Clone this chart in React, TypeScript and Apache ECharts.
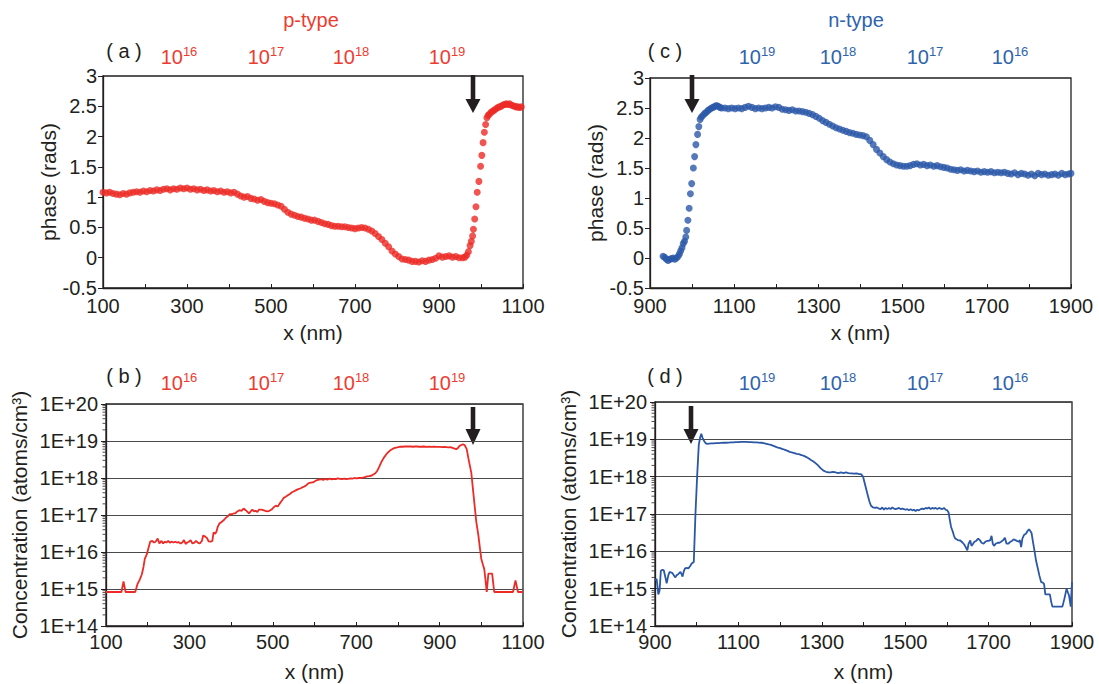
import React, { useEffect, useRef } from "react";
import * as echarts from "echarts";

const RED = "#ec2a26";
const RED_TEXT = "#ee3b30";
const BLUE = "#2b57a7";
const BLUE_TEXT = "#2e63ae";
const INK = "#231f20";
const FONT = "'Liberation Sans', Arial, Helvetica, sans-serif";

// ---------- data ----------
// (a) p-type phase [x nm, phase rad]
const pPhase: [number, number][] = [
  [100, 1.08], [108, 1.07], [116, 1.08], [124, 1.06], [132, 1.05], [140, 1.04], [148, 1.06], [156, 1.05],
  [164, 1.07], [172, 1.08], [180, 1.09], [188, 1.08], [196, 1.1], [204, 1.09], [212, 1.11], [220, 1.1],
  [228, 1.12], [236, 1.11], [244, 1.13], [252, 1.14], [260, 1.12], [268, 1.14], [276, 1.13], [284, 1.15],
  [292, 1.14], [300, 1.15], [308, 1.13], [316, 1.14], [324, 1.12], [332, 1.13], [340, 1.11], [348, 1.12],
  [356, 1.1], [364, 1.11], [372, 1.09], [380, 1.1], [388, 1.08], [396, 1.09], [404, 1.07], [412, 1.08],
  [420, 1.05], [428, 1.02], [436, 1.0], [444, 1.01], [452, 0.98], [460, 0.97], [468, 0.95], [476, 0.96],
  [484, 0.93], [492, 0.91], [500, 0.9], [508, 0.89], [516, 0.87], [524, 0.85], [532, 0.8], [540, 0.75],
  [548, 0.72], [556, 0.7], [564, 0.68], [572, 0.67], [580, 0.65], [588, 0.64], [596, 0.62], [604, 0.62],
  [612, 0.6], [620, 0.58], [628, 0.56], [636, 0.55], [644, 0.53], [652, 0.52], [660, 0.52], [668, 0.51],
  [676, 0.51], [684, 0.5], [692, 0.49], [700, 0.48], [708, 0.49], [716, 0.5], [724, 0.49], [732, 0.47],
  [740, 0.44], [748, 0.4], [756, 0.35], [764, 0.3], [772, 0.24], [780, 0.18], [788, 0.11], [796, 0.06],
  [804, 0.02], [812, -0.02], [820, -0.03], [828, -0.04], [836, -0.06], [844, -0.06], [852, -0.07], [860, -0.05],
  [868, -0.06], [876, -0.04], [884, -0.03], [892, -0.01], [900, 0.03], [908, 0.01], [916, 0.02], [924, 0.03],
  [932, 0.01], [940, 0.02], [948, 0.0], [956, 0.0], [962, 0.01], [966, 0.04], [970, 0.1], [974, 0.2],
  [977, 0.27], [980, 0.36], [982, 0.47], [985, 0.64], [988, 0.84], [991, 1.08], [995, 1.26], [999, 1.51],
  [1002, 1.69], [1005, 1.9], [1008, 2.07], [1011, 2.2], [1014, 2.31], [1017, 2.35], [1020, 2.37], [1024, 2.4],
  [1028, 2.42], [1032, 2.44], [1036, 2.46], [1040, 2.48], [1044, 2.49], [1048, 2.5], [1052, 2.52], [1056, 2.53],
  [1060, 2.54], [1064, 2.53], [1068, 2.54], [1072, 2.52], [1076, 2.51], [1080, 2.5], [1084, 2.49], [1088, 2.49],
  [1092, 2.48], [1096, 2.49],
];

// (c) n-type phase [x nm, phase rad]
const nPhase: [number, number][] = [
  [931, 0.03], [935, 0.01], [939, -0.02], [943, -0.04], [947, -0.02], [951, -0.01], [955, 0.0], [959, -0.02],
  [963, 0.0], [967, 0.03], [970, 0.07], [973, 0.12], [976, 0.17], [979, 0.24], [982, 0.28], [985, 0.35],
  [987, 0.46], [990, 0.63], [993, 0.83], [996, 1.07], [999, 1.24], [1003, 1.5], [1006, 1.69], [1009, 1.89],
  [1013, 2.06], [1016, 2.19], [1019, 2.31], [1022, 2.35], [1026, 2.38], [1030, 2.41], [1034, 2.43], [1038, 2.46],
  [1042, 2.48], [1046, 2.5], [1050, 2.51], [1054, 2.53], [1058, 2.54], [1062, 2.53], [1066, 2.51], [1070, 2.5],
  [1078, 2.5], [1086, 2.49], [1094, 2.5], [1102, 2.49], [1110, 2.5], [1118, 2.49], [1126, 2.51], [1134, 2.53],
  [1142, 2.51], [1150, 2.49], [1158, 2.5], [1166, 2.49], [1174, 2.5], [1182, 2.51], [1190, 2.5], [1198, 2.52],
  [1206, 2.51], [1214, 2.48], [1222, 2.47], [1230, 2.46], [1238, 2.47], [1246, 2.45], [1254, 2.45], [1262, 2.44],
  [1270, 2.43], [1278, 2.41], [1286, 2.39], [1294, 2.36], [1302, 2.33], [1310, 2.29], [1318, 2.26], [1326, 2.23],
  [1334, 2.2], [1342, 2.17], [1350, 2.15], [1358, 2.13], [1366, 2.11], [1374, 2.09], [1382, 2.08], [1390, 2.06],
  [1398, 2.05], [1406, 2.04], [1414, 2.02], [1422, 1.96], [1430, 1.89], [1438, 1.81], [1446, 1.75], [1454, 1.69],
  [1462, 1.64], [1470, 1.6], [1478, 1.57], [1486, 1.55], [1494, 1.54], [1502, 1.53], [1510, 1.53], [1518, 1.54],
  [1526, 1.56], [1534, 1.57], [1542, 1.55], [1550, 1.56], [1558, 1.54], [1566, 1.55], [1574, 1.53], [1582, 1.54],
  [1590, 1.52], [1598, 1.51], [1606, 1.5], [1614, 1.48], [1622, 1.47], [1630, 1.46], [1638, 1.47], [1646, 1.45],
  [1654, 1.46], [1662, 1.45], [1670, 1.44], [1678, 1.45], [1686, 1.43], [1694, 1.44], [1702, 1.43], [1710, 1.44],
  [1718, 1.42], [1726, 1.43], [1734, 1.42], [1742, 1.43], [1750, 1.41], [1758, 1.4], [1766, 1.42], [1774, 1.39],
  [1782, 1.41], [1790, 1.4], [1798, 1.38], [1806, 1.4], [1814, 1.37], [1822, 1.41], [1830, 1.39], [1838, 1.4],
  [1846, 1.38], [1854, 1.39], [1862, 1.4], [1870, 1.38], [1878, 1.41], [1886, 1.39], [1894, 1.4], [1900, 1.41],
];

// (b) p-type concentration [x nm, atoms/cm3]
const pConc: [number, number][] = [
  [100, 8.3e14], [110, 8.3e14], [120, 8.3e14], [130, 8.3e14], [137, 8.3e14], [142, 1.6e15], [147, 8.3e14],
  [155, 8.3e14], [165, 8.3e14], [170, 8.3e14], [176, 1.4e15], [181, 1.8e15], [186, 2.5e15], [190, 4.0e15],
  [193, 6.5e15], [198, 8.7e15], [202, 1.3e16], [206, 1.9e16], [211, 2.0e16], [215, 1.8e16], [219, 1.9e16],
  [224, 2.3e16], [228, 1.7e16], [233, 2.0e16], [237, 1.7e16], [241, 1.9e16], [245, 1.8e16], [249, 2.0e16],
  [253, 1.8e16], [258, 1.9e16], [262, 1.8e16], [266, 1.9e16], [270, 1.8e16], [274, 1.85e16], [279, 1.7e16],
  [283, 1.8e16], [287, 2.1e16], [291, 1.65e16], [295, 1.8e16], [299, 1.9e16], [303, 2.1e16], [307, 1.7e16],
  [312, 1.8e16], [316, 2.0e16], [320, 1.8e16], [325, 1.7e16], [330, 2.0e16], [333, 2.8e16], [338, 2.6e16],
  [342, 2.4e16], [346, 1.95e16], [351, 1.9e16], [355, 2.0e16], [358, 3.4e16], [362, 3.1e16], [365, 3.6e16],
  [368, 4.8e16], [372, 5.9e16], [377, 6.5e16], [382, 7.2e16], [387, 8.3e16], [392, 9.2e16], [397, 1.05e17],
  [402, 1.05e17], [406, 1.1e17], [410, 1.1e17], [415, 1.25e17], [420, 1.35e17], [425, 1.3e17], [430, 1.5e17],
  [435, 1.35e17], [440, 1.2e17], [443, 1.1e17], [447, 1.25e17], [451, 1.4e17], [455, 1.25e17], [459, 1.3e17],
  [463, 1.2e17], [467, 1.4e17], [472, 1.4e17], [477, 1.35e17], [482, 1.3e17], [487, 1.25e17], [492, 1.3e17],
  [497, 1.4e17], [502, 1.6e17], [507, 1.8e17], [512, 1.7e17], [516, 2.0e17], [521, 2.4e17], [526, 2.9e17],
  [531, 3.1e17], [536, 3.4e17], [541, 3.7e17], [546, 4.1e17], [551, 4.4e17], [556, 4.7e17], [561, 5.0e17],
  [566, 5.2e17], [571, 5.6e17], [576, 5.9e17], [581, 6.5e17], [586, 7.3e17], [591, 7.5e17], [596, 7.6e17],
  [601, 8.2e17], [606, 8.8e17], [611, 9.0e17], [616, 9.3e17], [621, 8.9e17], [626, 9.4e17], [631, 9.0e17],
  [636, 9.6e17], [641, 9.2e17], [646, 9.5e17], [651, 9.3e17], [656, 9.8e17], [661, 9.5e17], [666, 9.3e17],
  [671, 9.6e17], [676, 9.4e17], [681, 9.5e17], [686, 9.8e17], [691, 9.6e17], [696, 1.0e18], [701, 9.7e17],
  [706, 1.0e18], [711, 1.0e18], [716, 1.02e18], [721, 1.05e18], [726, 1.1e18], [731, 1.12e18], [736, 1.15e18],
  [741, 1.25e18], [746, 1.35e18], [751, 1.6e18], [756, 2.1e18], [761, 2.8e18], [766, 3.5e18], [771, 4.2e18],
  [776, 4.9e18], [781, 5.5e18], [786, 6.0e18], [791, 6.4e18], [796, 6.6e18], [801, 6.8e18], [806, 7.0e18],
  [811, 7.0e18], [816, 7.1e18], [821, 7.1e18], [826, 7.2e18], [831, 7.1e18], [836, 7.0e18], [841, 7.1e18],
  [846, 7.1e18], [851, 7.0e18], [856, 7.0e18], [861, 7.1e18], [866, 7.0e18], [871, 6.9e18], [876, 7.0e18],
  [881, 6.9e18], [886, 7.0e18], [891, 6.9e18], [896, 6.9e18], [901, 6.9e18], [906, 6.8e18], [911, 6.9e18],
  [916, 6.8e18], [921, 6.7e18], [926, 6.8e18], [931, 6.5e18], [936, 6.2e18], [940, 6.0e18], [944, 6.5e18],
  [948, 7.4e18], [952, 7.8e18], [956, 8.1e18], [960, 7.8e18], [965, 6.0e18], [970, 3.0e18], [976, 1.4e18],
  [980, 5.0e17], [984, 1.8e17], [988, 6.5e16], [993, 2.8e16], [997, 1.2e16], [1000, 6.5e15], [1004, 4.5e15],
  [1007, 3.5e15], [1010, 1.8e15], [1013, 8.3e14], [1017, 2.6e15], [1021, 2.6e15], [1026, 2.6e15], [1031, 8.3e14],
  [1040, 8.3e14], [1050, 8.3e14], [1060, 8.3e14], [1070, 8.3e14], [1076, 8.3e14], [1082, 1.7e15], [1088, 8.3e14],
  [1094, 8.3e14], [1100, 8.3e14],
];

// (d) n-type concentration [x nm, atoms/cm3]
const nConc: [number, number][] = [
  [900, 1.7e15], [904, 1.8e15], [908, 7.0e14], [911, 9.0e14], [914, 3.0e15], [918, 3.2e15], [921, 3.1e15],
  [925, 2.0e15], [928, 1.4e15], [932, 2.3e15], [935, 2.8e15], [939, 2.7e15], [942, 2.6e15], [946, 2.2e15],
  [949, 2.0e15], [952, 2.3e15], [955, 2.4e15], [958, 2.6e15], [961, 2.8e15], [964, 2.4e15], [966, 2.1e15],
  [969, 2.9e15], [972, 3.5e15], [976, 3.6e15], [980, 3.5e15], [984, 4.0e15], [988, 4.7e15], [993, 5.2e15],
  [997, 1.0e17], [1001, 1.0e18], [1005, 7.1e18], [1008, 1.1e19], [1011, 1.4e19], [1014, 1.1e19], [1018, 8.9e18],
  [1022, 7.8e18], [1025, 7.6e18], [1030, 7.7e18], [1035, 7.8e18], [1040, 7.8e18], [1046, 7.9e18], [1052, 7.9e18],
  [1058, 8.0e18], [1064, 8.1e18], [1070, 8.1e18], [1076, 8.2e18], [1082, 8.3e18], [1088, 8.3e18], [1094, 8.4e18],
  [1100, 8.4e18], [1106, 8.5e18], [1112, 8.5e18], [1119, 8.5e18], [1125, 8.4e18], [1131, 8.4e18], [1137, 8.3e18],
  [1143, 8.3e18], [1149, 8.2e18], [1155, 8.1e18], [1161, 7.9e18], [1167, 7.6e18], [1173, 7.3e18], [1178, 7.1e18],
  [1184, 6.7e18], [1190, 6.3e18], [1195, 6.0e18], [1200, 5.8e18], [1206, 5.5e18], [1212, 5.2e18], [1218, 4.9e18],
  [1223, 4.6e18], [1228, 4.5e18], [1234, 4.3e18], [1240, 4.1e18], [1245, 4.0e18], [1251, 3.8e18], [1257, 3.6e18],
  [1262, 3.4e18], [1268, 3.1e18], [1274, 2.8e18], [1279, 2.6e18], [1285, 2.3e18], [1291, 2.0e18], [1297, 1.7e18],
  [1304, 1.45e18], [1310, 1.35e18], [1316, 1.3e18], [1321, 1.3e18], [1327, 1.35e18], [1333, 1.3e18], [1339, 1.25e18],
  [1346, 1.3e18], [1352, 1.25e18], [1358, 1.3e18], [1364, 1.25e18], [1371, 1.23e18], [1377, 1.2e18], [1383, 1.22e18],
  [1388, 1.18e18], [1394, 1.17e18], [1399, 1.0e18], [1404, 6.0e17], [1409, 3.6e17], [1414, 2.2e17], [1418, 1.66e17],
  [1423, 1.5e17], [1428, 1.45e17], [1432, 1.5e17], [1437, 1.4e17], [1441, 1.35e17], [1445, 1.5e17], [1449, 1.3e17],
  [1453, 1.45e17], [1457, 1.35e17], [1461, 1.45e17], [1465, 1.35e17], [1469, 1.5e17], [1473, 1.4e17], [1477, 1.35e17],
  [1481, 1.4e17], [1485, 1.45e17], [1489, 1.35e17], [1493, 1.4e17], [1497, 1.35e17], [1501, 1.3e17], [1505, 1.35e17],
  [1509, 1.25e17], [1513, 1.35e17], [1517, 1.25e17], [1521, 1.3e17], [1525, 1.2e17], [1529, 1.3e17], [1533, 1.25e17],
  [1537, 1.35e17], [1541, 1.4e17], [1545, 1.35e17], [1549, 1.45e17], [1553, 1.4e17], [1557, 1.5e17], [1561, 1.35e17],
  [1565, 1.45e17], [1569, 1.4e17], [1573, 1.45e17], [1577, 1.35e17], [1581, 1.45e17], [1585, 1.4e17], [1589, 1.35e17],
  [1593, 1.45e17], [1597, 1.3e17], [1601, 1.25e17], [1604, 1.1e17], [1607, 7.0e16], [1610, 4.5e16], [1614, 3.4e16],
  [1617, 2.6e16], [1620, 2.2e16], [1626, 2.0e16], [1632, 1.95e16], [1638, 1.7e16], [1642, 1.5e16], [1645, 1.3e16],
  [1649, 1.07e16], [1652, 1.6e16], [1656, 1.95e16], [1659, 1.4e16], [1662, 1.55e16], [1666, 1.8e16], [1670, 1.9e16],
  [1675, 2.2e16], [1679, 2.0e16], [1683, 1.7e16], [1688, 1.6e16], [1692, 1.8e16], [1696, 1.9e16], [1700, 1.9e16],
  [1704, 2.0e16], [1707, 2.6e16], [1710, 1.6e16], [1713, 1.4e16], [1717, 1.6e16], [1722, 1.7e16], [1726, 1.7e16],
  [1730, 1.8e16], [1735, 2.0e16], [1739, 2.3e16], [1743, 1.6e16], [1747, 1.6e16], [1752, 1.8e16], [1756, 1.9e16],
  [1760, 2.1e16], [1764, 2.0e16], [1768, 1.9e16], [1772, 1.8e16], [1775, 2.0e16], [1778, 1.3e16], [1781, 2.2e16],
  [1785, 2.75e16], [1790, 3.0e16], [1794, 3.6e16], [1797, 3.9e16], [1800, 3.5e16], [1803, 3.1e16], [1806, 1.9e16],
  [1810, 1.05e16], [1814, 5.5e15], [1818, 3.5e15], [1822, 2.2e15], [1826, 1.5e15], [1830, 1.45e15], [1833, 1.35e15],
  [1836, 7.0e14], [1843, 7.0e14], [1847, 7.0e14], [1850, 4.5e14], [1853, 3.3e14], [1860, 3.3e14], [1868, 3.3e14],
  [1877, 3.3e14], [1882, 5.5e14], [1887, 1.0e15], [1890, 8.0e14], [1893, 6.5e14], [1897, 3.3e14], [1900, 1.5e15],
];

// header labels (powers of ten above each panel)
const pExponents = ["16", "17", "18", "19"];
const nExponents = ["19", "18", "17", "16"];
// log-axis minor tick decades and multipliers
const minorDecades = [14, 15, 16, 17, 18, 19];
const minorMultipliers = [2, 3, 4, 5, 6, 7, 8, 9];

// ---------- layout (pixels) ----------
const grids = [
  { left: 103, top: 76, width: 420, height: 212 }, // a
  { left: 106, top: 404, width: 417, height: 222 }, // b
  { left: 650, top: 78, width: 421, height: 210 }, // c
  { left: 655, top: 402, width: 417, height: 224 }, // d
];
const pHeaderX = [179, 266, 351, 447];
const nHeaderX = [757, 838, 925, 1010];

function xAxis(gridIndex: number, min: number, max: number, nameGap: number, labelMargin: number) {
  return {
    type: "value",
    gridIndex,
    min,
    max,
    interval: 100,
    name: "x (nm)",
    nameLocation: "middle",
    nameGap,
    nameTextStyle: { fontSize: 21, color: INK, fontFamily: FONT },
    axisLine: { show: true, onZero: false, lineStyle: { color: INK, width: 1.3 } },
    axisTick: { show: true, inside: true, length: 4, lineStyle: { color: INK, width: 1 } },
    axisLabel: {
      margin: labelMargin,
      fontSize: 20,
      color: INK,
      fontFamily: FONT,
      formatter: (v: number) => ((v - min) % 200 === 0 ? String(v) : ""),
    },
    splitLine: { show: false },
  };
}

function phaseAxis(gridIndex: number, nameGap: number) {
  return {
    type: "value",
    gridIndex,
    min: -0.5,
    max: 3,
    interval: 0.5,
    name: "phase (rads)",
    nameLocation: "middle",
    nameGap,
    nameTextStyle: { fontSize: 21, color: INK, fontFamily: FONT },
    axisLine: { show: true, onZero: false, lineStyle: { color: INK, width: 1.3 } },
    axisTick: { show: true, inside: false, length: 5, lineStyle: { color: INK, width: 1 } },
    axisLabel: { margin: 6, fontSize: 20, color: INK, fontFamily: FONT },
    splitLine: { show: false },
  };
}

function concAxis(gridIndex: number, nameGap: number) {
  return {
    type: "log",
    logBase: 10,
    gridIndex,
    min: 1e14,
    max: 1e20,
    interval: 1,
    splitNumber: 6,
    name: "Concentration (atoms/cm³)",
    nameLocation: "middle",
    nameGap,
    nameTextStyle: { fontSize: 21, color: INK, fontFamily: FONT },
    axisLine: { show: true, onZero: false, lineStyle: { color: INK, width: 1.3 } },
    axisTick: { show: true, inside: false, length: 5, lineStyle: { color: INK, width: 1 } },
    axisLabel: {
      margin: 8,
      fontSize: 20,
      color: INK,
      fontFamily: FONT,
      formatter: (v: number) => "1E+" + Math.round(Math.log10(v)),
    },
    splitLine: { show: true, lineStyle: { color: "#4a4a4a", width: 1 } },
  };
}

function minorTickSeries(xAxisIndex: number, xMin: number) {
  const data: [number, number][] = [];
  minorDecades.forEach((d) => minorMultipliers.forEach((m) => data.push([xMin, m * Math.pow(10, d)])));
  return {
    type: "scatter",
    xAxisIndex,
    yAxisIndex: xAxisIndex,
    data,
    symbol: "rect",
    symbolSize: [3, 1],
    symbolOffset: [-2, 0],
    itemStyle: { color: INK },
    silent: true,
    clip: false,
    z: 1,
  };
}

function headerTexts(xs: number[], exps: string[], y: number, color: string) {
  return xs.map((x, i) => ({
    type: "text",
    x,
    y,
    style: {
      text: `{b|10}{s|${exps[i]}}`,
      align: "center",
      verticalAlign: "middle",
      fill: color,
      rich: {
        b: { fontSize: 20, fontFamily: FONT, fill: color, lineHeight: 22, verticalAlign: "bottom" },
        s: { fontSize: 13, fontFamily: FONT, fill: color, lineHeight: 22, verticalAlign: "top" },
      },
    },
  }));
}

function arrow(cx: number, top: number, base: number, tip: number) {
  return {
    type: "group",
    children: [
      { type: "rect", shape: { x: cx - 2.3, y: top, width: 4.6, height: base - top + 1 }, style: { fill: INK } },
      {
        type: "polygon",
        shape: { points: [[cx - 7.5, base], [cx + 7.5, base], [cx, tip]] },
        style: { fill: INK },
      },
    ],
  };
}

function panelLabel(text: string, x: number, y: number) {
  return {
    type: "text",
    x,
    y,
    style: { text, align: "center", verticalAlign: "middle", fontSize: 20, fontFamily: FONT, fill: INK },
  };
}

export default function App() {
  const ref = useRef<HTMLDivElement>(null);
  useEffect(() => {
    if (!ref.current) return;
    const chart = echarts.init(ref.current, undefined, { renderer: "svg" });
    chart.setOption({
      animation: false,
      backgroundColor: "#ffffff",
      grid: grids.map((g) => ({ ...g, show: true, borderColor: INK, borderWidth: 1.3, containLabel: false })),
      xAxis: [
        xAxis(0, 100, 1100, 34, 8),
        xAxis(1, 100, 1100, 35, 6),
        xAxis(2, 900, 1900, 34, 8),
        xAxis(3, 900, 1900, 35, 6),
      ],
      yAxis: [phaseAxis(0, 40), concAxis(1, 76), phaseAxis(2, 42), concAxis(3, 76)],
      series: [
        {
          type: "scatter",
          xAxisIndex: 0,
          yAxisIndex: 0,
          data: pPhase,
          symbolSize: 7,
          itemStyle: { color: RED },
          z: 3,
        },
        {
          type: "line",
          xAxisIndex: 1,
          yAxisIndex: 1,
          data: pConc,
          showSymbol: false,
          lineStyle: { color: RED, width: 1.8 },
          z: 3,
        },
        {
          type: "scatter",
          xAxisIndex: 2,
          yAxisIndex: 2,
          data: nPhase,
          symbolSize: 7,
          itemStyle: { color: BLUE },
          z: 3,
        },
        {
          type: "line",
          xAxisIndex: 3,
          yAxisIndex: 3,
          data: nConc,
          showSymbol: false,
          lineStyle: { color: BLUE, width: 1.8 },
          z: 3,
        },
        minorTickSeries(1, 100),
        minorTickSeries(3, 900),
      ],
      graphic: [
        {
          type: "text",
          x: 311,
          y: 20,
          style: { text: "p-type", align: "center", verticalAlign: "middle", fontSize: 20, fontFamily: FONT, fill: RED_TEXT },
        },
        {
          type: "text",
          x: 856,
          y: 20,
          style: { text: "n-type", align: "center", verticalAlign: "middle", fontSize: 20, fontFamily: FONT, fill: BLUE_TEXT },
        },
        panelLabel("( a )", 124, 51),
        panelLabel("( b )", 124, 376),
        panelLabel("( c )", 665, 51),
        panelLabel("( d )", 665, 376),
        ...headerTexts(pHeaderX, pExponents, 56, RED_TEXT),
        ...headerTexts(pHeaderX, pExponents, 382, RED_TEXT),
        ...headerTexts(nHeaderX, nExponents, 56, BLUE_TEXT),
        ...headerTexts(nHeaderX, nExponents, 382, BLUE_TEXT),
        arrow(473, 75, 99, 113),
        arrow(692, 75, 99, 113),
        arrow(473, 407, 429, 445),
        arrow(691, 406, 429, 444),
      ],
    });
    return () => chart.dispose();
  }, []);
  return (
    <div
      ref={ref}
      style={{ position: "fixed", left: 0, top: 0, width: 1099, height: 684, background: "#fff" }}
    />
  );
}
